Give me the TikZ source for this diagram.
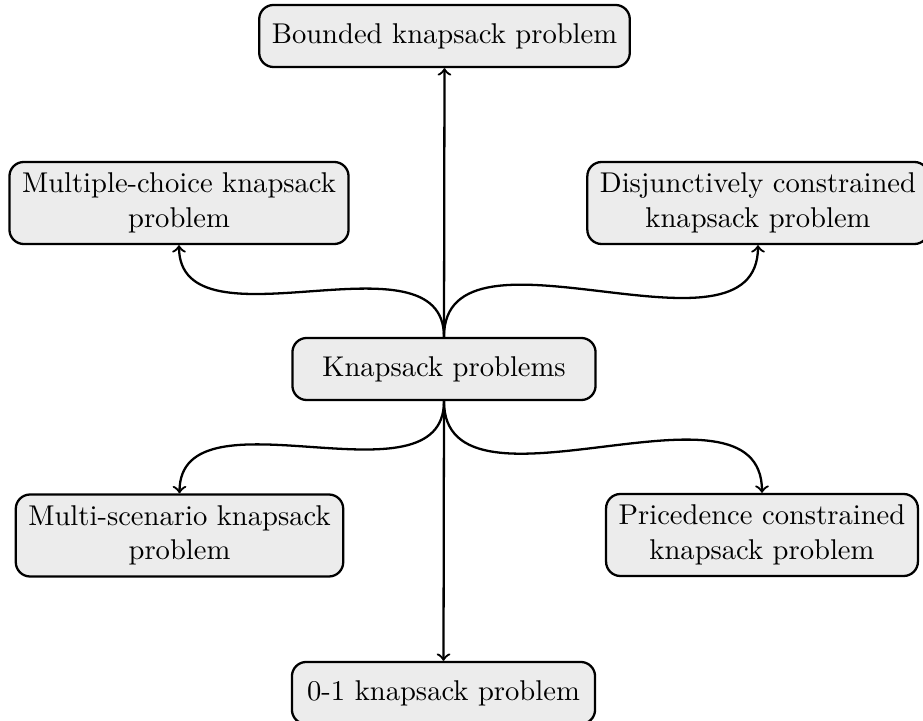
\documentclass[tikz,border=0pt]{standalone}
\usetikzlibrary{positioning}
\begin{document}
\begin{tikzpicture}[x=0.3497pt, y=-0.3497pt,
  box/.style={draw, thick, rounded corners=5pt, fill=gray!15, align=center,
    inner xsep=4.4pt, inner ysep=3.9pt, minimum height=21.7pt, minimum width=106pt},
  link/.style={thick, ->}]
\useasboundingbox (0,0) rectangle (923,721);
\node[box] (kp) at (444,369) {Knapsack problems};
\node[box] (bkp) at (444.5,36) {Bounded knapsack problem};
\node[box] (mck) at (179,203) {Multiple-choice knapsack\\problem};
\node[box] (dck) at (758,203) {Disjunctively constrained\\knapsack problem};
\node[box] (msk) at (179.5,535.5) {Multi-scenario knapsack\\problem};
\node[box] (pck) at (762,535) {Pricedence constrained\\knapsack problem};
\node[box] (zok) at (443.5,693) {0-1 knapsack problem};
\draw[link] (kp.north) -- (bkp.south);
\draw[link] (kp.north) to[out=90,in=-90] (mck.south);
\draw[link] (kp.north) to[out=90,in=-90] (dck.south);
\draw[link] (kp.south) -- (zok.north);
\draw[link] (kp.south) to[out=-90,in=90] (msk.north);
\draw[link] (kp.south) to[out=-90,in=90] (pck.north);
\end{tikzpicture}
\end{document}
